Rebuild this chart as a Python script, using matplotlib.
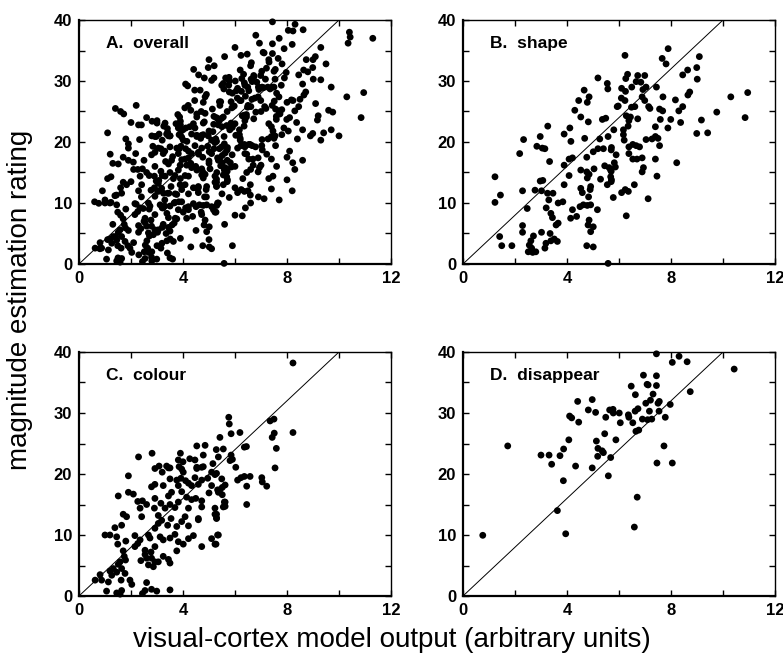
import numpy as np
import matplotlib
matplotlib.use('Agg')
import matplotlib.pyplot as plt

plt.rcParams['font.family'] = ['Liberation Sans', 'DejaVu Sans']

# panel B: shape  (model output, rating)
shape_x = [5.19, 5.55, 5.57, 4.66, 4.85, 4.45, 4.78, 5.93, 4.30, 4.53, 5.36, 5.49, 4.82, 3.26, 4.11,
           3.89, 5.80,
           6.23, 7.89, 7.66, 7.81, 9.09, 8.99, 8.64, 8.45, 9.01, 6.33, 6.26, 6.72, 6.99, 6.66, 6.84,
           6.49, 6.10, 6.92, 7.04, 7.44, 6.25, 6.09, 6.23, 6.89, 6.99, 7.69, 8.72, 8.65, 10.30, 10.95,
           5.97, 6.48, 6.61, 7.14, 7.19, 7.56, 7.68, 8.17, 8.45, 8.30, 6.28, 6.44, 6.38, 6.35, 6.72,
           7.59, 7.99, 8.37, 7.88, 7.40, 9.76, 10.85, 9.17, 8.99, 9.41, 6.17, 6.17,
           2.97, 2.33, 4.15, 4.68, 5.26, 5.58, 2.84, 3.05, 3.15, 2.18, 5.01, 5.19, 5.40, 5.70, 4.08,
           4.21, 4.76, 3.33, 3.89, 4.53, 4.76, 4.85, 5.04, 5.45, 5.68, 5.86, 1.23, 4.08, 2.97, 3.07,
           4.78, 5.29, 5.55, 5.70, 4.53, 4.91, 3.89, 2.29, 2.77, 3.02, 3.25, 3.46, 1.44, 4.59, 4.89,
           4.83, 5.78, 1.23, 3.30, 3.66, 3.84, 4.21, 4.50, 4.63, 4.78, 4.91, 5.17, 2.47, 3.20, 3.38,
           3.44, 4.14, 4.37, 3.58, 3.66, 4.85, 4.81, 5.01, 4.91, 2.29, 2.29, 2.71, 3.02, 3.35, 3.51,
           3.38, 3.63, 3.19, 2.61, 2.55, 2.64, 2.51, 2.68, 2.80, 1.41, 1.49, 1.88, 3.15, 4.76, 5.01,
           5.58,
           6.20, 7.04, 7.27, 7.40, 7.50, 5.71, 6.38, 6.53, 6.66, 6.79, 7.56, 5.89, 6.38, 6.53, 6.69,
           6.89, 7.40, 8.22, 5.82, 5.62, 5.70, 6.94, 6.89, 7.46, 5.68, 5.71, 6.59, 6.24, 6.36, 6.10,
           7.12, 6.28]
shape_y = [30.5, 29.6, 28.7, 28.5, 27.4, 26.8, 26.5, 25.8, 25.2, 24.1, 23.7, 23.9, 23.3, 22.6, 22.3,
           21.3, 22.0,
           34.2, 35.3, 33.7, 32.8, 34.0, 32.2, 31.8, 31.0, 30.3, 31.1, 30.4, 30.9, 30.9, 29.9, 29.8,
           29.0, 28.8, 28.6, 29.0, 29.0, 28.3, 27.2, 26.8, 27.4, 26.8, 27.4, 28.2, 27.7, 27.4, 28.1,
           25.9, 25.7, 25.8, 25.8, 25.5, 25.4, 25.1, 26.9, 25.8, 25.1, 24.3, 24.1, 23.5, 22.6, 23.8,
           23.7, 23.7, 23.2, 22.3, 22.5, 24.9, 24.0, 23.6, 21.4, 21.5, 22.0, 21.2,
           20.9, 20.4, 20.1, 20.6, 20.5, 20.9, 19.3, 19.0, 18.9, 18.1, 18.4, 18.9, 18.9, 18.7, 17.2,
           17.4, 17.5, 16.8, 16.2, 15.4, 15.1, 14.7, 15.6, 16.1, 15.4, 15.9, 14.3, 14.5, 13.6, 13.7,
           14.1, 13.9, 13.0, 13.5, 12.4, 12.7, 13.0, 12.0, 12.1, 12.0, 11.6, 11.6, 11.3, 11.7, 12.2,
           11.0, 10.9, 10.1, 10.5, 10.0, 10.2, 8.9, 9.4, 9.7, 9.6, 9.7, 8.9, 9.1, 9.2, 8.3,
           7.6, 7.5, 7.8, 6.4, 6.7, 7.2, 6.4, 6.1, 5.3, 6.3, 5.2, 4.6, 5.2, 5.0, 4.1,
           3.8, 3.7, 3.4, 3.8, 3.1, 2.6, 2.0, 1.9, 2.0, 4.5, 3.0, 3.0, 2.6, 3.0, 2.8,
           0.1,
           20.3, 20.4, 20.5, 20.9, 20.6, 19.1, 19.2, 19.6, 19.4, 19.2, 19.4, 17.9, 18.1, 17.2, 17.2,
           17.4, 17.2, 16.6, 16.6, 15.8, 15.2, 15.8, 15.1, 14.4, 14.3, 13.8, 13.0, 12.2, 11.9, 11.7,
           10.7, 7.9]

# panel C: colour
colour_x = [5.42, 4.85, 4.53, 3.90, 2.81, 2.29, 5.28, 5.55, 4.78, 5.36, 5.15, 3.82, 4.00, 4.26, 4.46,
            3.08, 3.37, 3.50, 4.53, 3.95, 4.72,
            8.23, 5.76, 5.78, 7.35, 7.50, 6.19, 5.85, 8.23, 7.51, 7.43, 6.36, 6.44, 7.59, 5.85, 5.90,
            5.81, 6.03, 7.54,
            2.92, 3.20, 3.44, 3.85, 4.01, 4.53, 4.78, 5.10, 1.90, 3.50, 3.76, 3.92, 4.10, 4.46, 4.72,
            4.95, 5.23, 5.49, 2.92, 3.24, 2.79, 3.82, 4.21, 4.33, 4.59, 5.10, 1.90, 2.09, 1.51, 2.92,
            3.56, 3.95, 3.44, 4.14, 4.49, 5.00, 5.36, 5.51, 2.26, 2.44, 2.60, 3.15, 3.50, 3.82, 4.33,
            4.72, 5.59, 2.35, 2.90, 3.31, 3.69, 4.21, 4.72, 5.23, 5.55, 1.70, 1.83, 2.41, 3.05, 3.18,
            3.54, 4.08, 4.59, 3.95, 5.23, 5.29, 3.05, 3.41, 3.76, 4.21, 4.59, 1.38, 1.64, 2.92, 1.00,
            1.19, 1.45, 1.49, 1.80, 2.15, 2.35, 2.67, 2.73, 3.12, 3.24, 3.50, 3.69, 3.82, 4.01, 4.21,
            4.40, 4.72, 5.10, 5.36, 5.23, 2.15, 2.26, 1.70, 2.54, 2.92, 2.54, 2.77, 1.74, 1.79, 1.58,
            2.38, 2.60, 2.79, 2.92, 2.67, 2.86, 3.24, 3.44, 3.50, 3.76, 3.05, 1.51, 1.32, 1.19, 1.45,
            1.64, 1.77, 1.26, 0.81, 0.62, 0.87, 1.13, 1.62, 1.96, 2.03, 2.44, 2.54, 2.60, 2.79, 2.99,
            3.50, 1.06, 1.45, 1.64, 1.58,
            5.29, 6.10, 6.23, 6.36, 6.58, 7.03, 7.05, 7.22, 6.45, 5.62, 5.51, 5.42, 5.33, 5.62, 5.62,
            6.45, 5.29, 5.29, 5.33, 5.27]
colour_y = [26.0, 24.7, 24.6, 23.4, 23.4, 22.8, 24.0, 24.1, 23.1, 22.8, 21.7, 22.3, 22.0, 22.5, 22.3,
            21.3, 21.3, 21.0, 21.1, 20.8, 21.1,
            38.2, 29.3, 28.2, 28.7, 29.0, 26.8, 26.6, 26.8, 26.7, 26.0, 24.4, 24.5, 24.2, 23.1, 22.4,
            22.2, 21.1, 21.0,
            20.9, 20.3, 21.0, 21.2, 20.3, 20.9, 21.2, 20.3, 19.7, 19.2, 19.0, 19.3, 18.9, 19.4, 19.0,
            19.3, 19.9, 19.2, 18.3, 18.1, 17.9, 18.1, 18.5, 18.1, 18.3, 18.1, 17.0, 16.7, 16.4, 16.0,
            17.0, 17.1, 16.4, 16.2, 16.0, 16.9, 17.0, 16.6, 15.5, 15.6, 15.0, 15.2, 15.0, 15.4, 15.8,
            15.6, 15.4, 14.4, 14.4, 14.4, 14.5, 14.4, 14.6, 14.4, 14.6, 13.4, 13.0, 13.0, 13.2, 12.4,
            12.7, 13.0, 12.7, 12.2, 13.4, 12.7, 11.9, 11.6, 11.4, 11.5, 12.5, 11.2, 11.6, 11.1, 10.0,
            10.0, 9.7, 8.5, 9.0, 9.9, 9.2, 10.0, 9.5, 9.7, 9.2, 9.5, 10.1, 8.9, 8.5, 9.4,
            9.9, 8.1, 9.4, 10.0, 8.5, 8.1, 8.6, 7.4, 7.5, 8.1, 6.8, 7.2, 6.5, 5.9, 5.6,
            5.8, 6.2, 6.2, 5.6, 5.1, 4.8, 6.5, 6.0, 5.4, 7.4, 5.6, 5.2, 4.5, 4.1, 3.9,
            4.5, 3.7, 3.4, 3.5, 2.6, 2.6, 2.3, 2.6, 2.6, 1.9, 0.4, 0.9, 2.2, 1.1, 0.8,
            1.0, 0.8, 0.5, 0.9, 0.3,
            20.1, 19.0, 19.4, 19.6, 19.6, 19.4, 18.7, 18.0, 18.0, 18.2, 17.8, 17.4, 17.4, 15.4, 14.7,
            15.0, 13.4, 12.8, 10.0, 8.5]

# panel D: disappear
disappear_x = [1.72, 7.44, 8.05, 8.31, 8.62, 10.43, 6.94, 7.44, 6.47, 7.08, 7.12, 7.44, 8.74, 6.63,
               7.31, 4.41, 4.97, 7.03, 7.21, 7.55, 7.50, 7.97, 4.82, 5.10, 5.64, 5.77, 5.78, 6.01,
               6.36, 6.62, 6.73, 7.17, 7.54, 4.10, 4.18, 4.45, 5.49, 6.05, 6.38, 6.53, 6.90, 7.10,
               7.26, 7.78, 6.65, 6.76, 5.45, 4.07, 5.13, 5.88, 3.87, 5.19, 7.73, 3.00, 3.31, 3.73,
               3.41, 5.35, 5.40, 5.18, 5.68, 4.33, 4.97, 7.46, 8.05,
               5.59, 3.86, 3.63, 6.70, 6.59, 3.95, 0.76]
disappear_y = [24.6, 39.7, 38.3, 39.3, 38.4, 37.2, 36.2, 36.1, 34.4, 34.7, 34.6, 34.5, 33.5, 33.0,
               33.1, 31.9, 32.2, 31.6, 32.1, 31.9, 31.6, 31.4, 30.5, 30.1, 30.5, 30.6, 30.0, 30.0,
               29.7, 30.3, 30.7, 30.3, 30.3, 29.5, 29.2, 28.5, 29.3, 28.4, 29.3, 28.4, 29.0, 28.9,
               29.0, 29.3, 27.0, 27.2, 26.6, 25.6, 25.4, 25.6, 24.1, 24.2, 24.6, 23.1, 23.1, 23.0,
               21.6, 23.8, 23.5, 22.9, 22.7, 21.3, 21.0, 21.8, 21.8,
               19.7, 18.9, 14.0, 16.2, 11.3, 10.2, 9.95]

# panel A: extra points seen only in the overall panel
extra_x = [10.4, 10.35, 11.3, 9.3, 9.0, 8.2, 7.7, 6.8, 6.0, 5.6, 6.6, 7.3, 8.8, 9.5, 5.2, 4.6, 5.0,
           6.2, 7.9, 8.6, 9.3, 9.7,
           3.0, 3.4, 2.6, 3.8, 4.2, 4.9, 5.4, 5.9, 6.4, 7.6, 8.0, 8.5, 9.1, 9.6, 9.2, 9.7, 10.0,
           8.6, 8.9, 7.8, 7.3, 6.8, 6.0, 5.5, 5.0, 4.4, 3.9, 3.5, 2.8, 2.4, 2.0, 1.4, 1.6, 2.2,
           1.1, 1.8, 4.7, 5.7, 6.5, 7.0, 7.8, 8.1, 8.4, 9.3, 6.2, 5.2,
           0.6, 0.9, 1.1, 1.3, 1.2, 1.7, 1.9, 2.1, 2.5, 2.7, 2.9, 3.3, 3.6, 3.9, 4.3, 4.6, 5.0,
           5.3, 5.7, 6.0, 6.3, 6.6, 7.0, 7.3, 7.6, 8.0, 8.3, 8.1, 8.6, 8.2, 7.4, 6.9, 6.0, 5.5,
           4.9, 4.4, 3.7, 3.2, 2.4, 2.0, 1.6, 1.0, 6.6, 7.7, 8.0,
           0.8, 1.1, 1.3, 1.6, 1.9, 2.1, 2.3, 2.5, 2.7, 3.0, 3.2, 3.4, 3.7, 3.9, 4.1, 4.3, 4.5,
           4.7, 5.0, 5.3, 5.6, 5.1, 3.6, 2.8, 1.5, 6.0, 6.4, 5.9, 6.5, 3.3, 2.2]
extra_y = [38.0, 36.2, 37.0, 35.5, 33.5, 36.0, 37.0, 37.5, 35.5, 34.0, 32.5, 33.5, 31.5, 32.8, 32.5,
           31.0, 33.5, 31.8, 30.5, 29.5, 30.2, 29.0,
           23.5, 22.2, 24.0, 24.5, 26.0, 27.8, 26.6, 28.0, 27.5, 28.0, 26.5, 27.0, 26.3, 25.2, 24.3,
           22.0, 21.0, 22.0, 21.0, 21.2, 23.0, 24.9, 23.0, 22.5, 21.8, 23.0, 22.8, 21.0, 21.0, 22.8,
           23.2, 25.5, 25.0, 26.0, 21.5, 20.5, 25.0, 25.0, 26.0, 25.0, 25.3, 24.0, 20.5, 20.3, 20.6,
           20.1,
           10.2, 12.0, 14.0, 16.5, 18.0, 17.5, 19.0, 15.5, 17.0, 14.5, 12.5, 18.5, 17.6, 14.0, 16.5,
           18.0, 16.5, 15.0, 17.0, 16.0, 14.0, 15.5, 16.2, 14.0, 16.0, 17.5, 15.5, 18.5, 17.0, 12.0,
           12.3, 11.0, 12.5, 11.5, 11.0, 12.5, 11.5, 14.5, 11.0, 13.5, 12.5, 10.5, 10.0, 10.5, 13.8,
           2.5, 4.0, 6.5, 8.0, 5.5, 3.5, 1.5, 7.0, 9.0, 3.0, 6.0, 1.8, 7.5, 4.2, 9.2, 2.8, 5.5,
           8.5, 4.0, 9.6, 6.5, 2.5, 0.8, 0.5, 1.0, 8.0, 9.2, 3.0, 12.0, 9.5, 9.8]

# panel A: all judgements together
overall_x = shape_x + colour_x + disappear_x + extra_x
overall_y = shape_y + colour_y + disappear_y + extra_y

panels = [('A.  overall', overall_x, overall_y),
          ('B.  shape', shape_x, shape_y),
          ('C.  colour', colour_x, colour_y),
          ('D.  disappear', disappear_x, disappear_y)]

W, H = 783, 666
fig = plt.figure(figsize=(W / 100, H / 100), dpi=100)

lefts = [79, 463, 79, 463]
tops = [20, 20, 352, 352]
aw, ah = 312, 244

for i, (title, xs, ys) in enumerate(panels):
    ax = fig.add_axes([lefts[i] / W, 1 - (tops[i] + ah) / H, aw / W, ah / H])
    ax.plot([0, 10], [0, 40], color='k', lw=0.7)
    ax.scatter(xs, ys, s=24, color='k', edgecolors='none', zorder=3, clip_on=False)
    ax.set_xlim(0, 12)
    ax.set_ylim(0, 40)
    ax.set_xticks([0, 4, 8, 12])
    ax.set_xticks([2, 6, 10], minor=True)
    ax.set_yticks([0, 10, 20, 30, 40])
    ax.set_yticks([5, 15, 25, 35], minor=True)
    ax.tick_params(which='both', direction='in', top=True, right=True, length=4, width=1,
                   labelsize=12, pad=5)
    for lab in ax.get_xticklabels() + ax.get_yticklabels():
        lab.set_fontweight('bold')
    for side in ['left', 'bottom']:
        ax.spines[side].set_linewidth(1.6)
    for side in ['top', 'right']:
        ax.spines[side].set_linewidth(1.0)
    ax.text(0.085, 0.885, title, transform=ax.transAxes, fontsize=12.5, fontweight='bold')

fig.text(392 / W, 1 - 640 / H, 'visual-cortex model output (arbitrary units)',
         ha='center', va='center', fontsize=20)
fig.text(20 / W, 1 - 300 / H, 'magnitude estimation rating', rotation=90,
         ha='center', va='center', fontsize=20)

fig.savefig('out.png', dpi=100)
